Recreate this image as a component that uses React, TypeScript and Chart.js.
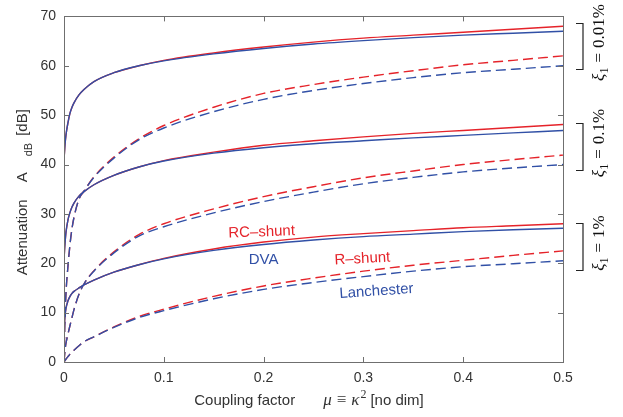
import { useEffect, useRef } from "react";
import { Chart, registerables } from "chart.js";

Chart.register(...registerables);

// ---- data ----
const mu = [0, 0.0005, 0.001, 0.002, 0.004, 0.006, 0.008, 0.01, 0.015, 0.02, 0.03, 0.05, 0.075, 0.1, 0.15, 0.2, 0.25, 0.3, 0.35, 0.4, 0.45, 0.5];

// xi = 0.01 %
const rcShunt001 = [41, 42.5, 44, 46, 48.5, 50.4, 51.6, 52.5, 54.1, 55.2, 56.8, 58.6, 60.0, 61.1, 62.6, 63.8, 64.8, 65.6, 66.2, 66.8, 67.4, 68.0];
const dva001 = [41, 42.5, 44, 46, 48.5, 50.4, 51.6, 52.5, 54.1, 55.2, 56.8, 58.6, 60.0, 61.0, 62.4, 63.5, 64.4, 65.1, 65.7, 66.2, 66.6, 67.0];
const rShunt001 = [0, 5, 9, 14, 19.5, 23.8, 27, 29.3, 33.0, 34.6, 37.5, 41.5, 45.2, 47.9, 51.6, 54.4, 56.2, 57.7, 59.0, 60.2, 61.1, 62.0];
const lanchester001 = [0, 5, 9, 14, 19.5, 23.8, 27, 29.3, 33.0, 34.6, 37.4, 41.3, 45.0, 47.4, 50.7, 53.2, 55.0, 56.4, 57.6, 58.6, 59.3, 60.0];

// xi = 0.1 %
const rcShunt01 = [20.5, 22.5, 24, 26.3, 28.8, 30.3, 31.4, 32.2, 33.6, 34.5, 35.9, 37.8, 39.5, 40.8, 42.5, 43.9, 44.8, 45.6, 46.3, 46.9, 47.5, 48.1];
const dva01 = [20.5, 22.5, 24, 26.3, 28.8, 30.3, 31.4, 32.2, 33.6, 34.5, 35.9, 37.8, 39.5, 40.7, 42.3, 43.4, 44.2, 44.8, 45.4, 45.9, 46.4, 46.9];
const rShunt01 = [0, 1.2, 2.3, 3.8, 5.7, 7.4, 9.0, 10.6, 13.7, 15.8, 18.5, 22.3, 25.8, 28.0, 31.0, 33.5, 35.5, 37.3, 38.7, 40.0, 41.0, 41.9];
const lanchester01 = [0, 1.2, 2.3, 3.8, 5.7, 7.4, 9.0, 10.6, 13.7, 15.8, 18.4, 22.1, 25.5, 27.4, 30.2, 32.5, 34.4, 36.1, 37.4, 38.5, 39.3, 40.0];

// xi = 1 %
const rcShunt1 = [6.5, 8, 9.3, 10.9, 12.4, 13.3, 13.9, 14.3, 15.0, 15.6, 16.6, 18.2, 19.7, 21.0, 22.9, 24.3, 25.3, 26.0, 26.6, 27.2, 27.6, 28.0];
const dva1 = [6.5, 8, 9.3, 10.9, 12.4, 13.3, 13.9, 14.3, 15.0, 15.6, 16.6, 18.2, 19.7, 20.9, 22.6, 23.8, 24.7, 25.4, 25.9, 26.4, 26.8, 27.1];
const rShunt1 = [0, 0.15, 0.3, 0.6, 1.1, 1.6, 2.0, 2.4, 3.3, 4.1, 5.1, 7.1, 9.2, 10.7, 13.3, 15.4, 17.0, 18.4, 19.6, 20.6, 21.6, 22.5];
const lanchester1 = [0, 0.15, 0.3, 0.6, 1.1, 1.6, 2.0, 2.4, 3.3, 4.1, 5.1, 7.0, 9.0, 10.4, 12.8, 14.7, 16.1, 17.3, 18.4, 19.3, 19.9, 20.5];

const xTicks = [0, 0.1, 0.2, 0.3, 0.4, 0.5];
const xTickLabels = ["0", "0.1", "0.2", "0.3", "0.4", "0.5"];
const yTicks = [0, 10, 20, 30, 40, 50, 60, 70];
const yTickLabels = ["0", "10", "20", "30", "40", "50", "60", "70"];

const xiLabels = ["0.01%", "0.1%", "1%"];
const bracketTops = [68.6, 48.4, 28.1];
const bracketBottoms = [59.3, 38.9, 18.7];

const curveLabels = [
  { text: "RC–shunt", x: 0.198, y: 26.3, color: "red", rot: -2 },
  { text: "DVA", x: 0.2, y: 20.6, color: "blue", rot: 0 },
  { text: "R–shunt", x: 0.299, y: 20.9, color: "red", rot: -3 },
  { text: "Lanchester", x: 0.313, y: 14.3, color: "blue", rot: -4 },
];

const RED = "#e5232a";
const BLUE = "#3150a6";
const AXIS = "#6f6f6f";
const TEXT = "#333333";
const SANS = "'Liberation Sans', Arial, Helvetica, sans-serif";
const SERIF = "'Liberation Serif', 'Times New Roman', serif";

function pts(ys: number[]) {
  return mu.map((x, i) => ({ x, y: ys[i] }));
}

function ds(label: string, ys: number[], color: string, dashed: boolean) {
  return {
    label,
    data: pts(ys),
    borderColor: color,
    backgroundColor: color,
    borderWidth: 1.4,
    borderDash: dashed ? [10, 5] : [],
    pointRadius: 0,
    fill: false,
    cubicInterpolationMode: "monotone" as const,
  };
}

const deco = {
  id: "deco",
  afterDraw(chart: any) {
    const { ctx, chartArea: a, scales } = chart;
    const xs = scales.x;
    const ys = scales.y;
    ctx.save();
    // box
    ctx.strokeStyle = AXIS;
    ctx.lineWidth = 1;
    ctx.setLineDash([]);
    ctx.strokeRect(Math.round(a.left) + 0.5, Math.round(a.top) + 0.5, Math.round(a.right - a.left), Math.round(a.bottom - a.top));
    const line = (x1: number, y1: number, x2: number, y2: number) => {
      ctx.beginPath();
      ctx.moveTo(x1, y1);
      ctx.lineTo(x2, y2);
      ctx.stroke();
    };
    const tl = 5;
    for (const v of xTicks) {
      const px = Math.round(xs.getPixelForValue(v)) + 0.5;
      line(px, a.bottom, px, a.bottom - tl);
      line(px, a.top, px, a.top + tl);
    }
    for (const v of yTicks) {
      const py = Math.round(ys.getPixelForValue(v)) + 0.5;
      line(a.left, py, a.left + tl, py);
      line(a.right, py, a.right - tl, py);
    }

    // curve labels
    for (const l of curveLabels) {
      ctx.save();
      ctx.translate(xs.getPixelForValue(l.x), ys.getPixelForValue(l.y));
      ctx.rotate((l.rot * Math.PI) / 180);
      ctx.font = `15px ${SANS}`;
      ctx.fillStyle = l.color === "red" ? RED : BLUE;
      ctx.textAlign = "center";
      ctx.textBaseline = "middle";
      ctx.fillText(l.text, 0, 0);
      ctx.restore();
    }

    // brackets + xi labels
    ctx.strokeStyle = "#222";
    ctx.lineWidth = 1.2;
    for (let i = 0; i < xiLabels.length; i++) {
      const t = Math.round(ys.getPixelForValue(bracketTops[i])) + 0.5;
      const b = Math.round(ys.getPixelForValue(bracketBottoms[i])) + 0.5;
      const bx = a.right + 20;
      ctx.beginPath();
      ctx.moveTo(bx - 7, t);
      ctx.lineTo(bx, t);
      ctx.lineTo(bx, b);
      ctx.lineTo(bx - 7, b);
      ctx.stroke();

      const cy = (t + b) / 2 - 4;
      ctx.save();
      ctx.translate(a.right + 41, cy);
      ctx.rotate(-Math.PI / 2);
      ctx.fillStyle = "#111";
      ctx.textBaseline = "alphabetic";
      ctx.textAlign = "left";
      const fXi = `italic 17px ${SERIF}`;
      const fSub = `12px ${SERIF}`;
      const fMain = `17px ${SERIF}`;
      ctx.font = fXi;
      const w1 = ctx.measureText("ξ").width;
      ctx.font = fSub;
      const w2 = ctx.measureText("1").width;
      ctx.font = fMain;
      const w3 = ctx.measureText("=").width;
      const w4 = ctx.measureText(xiLabels[i]).width;
      const g = 5;
      const total = w1 + w2 + g + w3 + g + w4;
      let x = -total / 2;
      ctx.font = fXi;
      ctx.fillText("ξ", x, 0);
      x += w1;
      ctx.font = fSub;
      ctx.fillText("1", x, 4);
      x += w2 + g;
      ctx.font = fMain;
      ctx.fillText("=", x, 0);
      x += w3 + g;
      ctx.fillText(xiLabels[i], x, 0);
      ctx.restore();
    }

    // y axis title
    {
      const cy = (a.top + a.bottom) / 2 + 3;
      ctx.save();
      ctx.translate(27, cy);
      ctx.rotate(-Math.PI / 2);
      ctx.fillStyle = TEXT;
      ctx.textAlign = "left";
      ctx.textBaseline = "alphabetic";
      const fM = `15px ${SANS}`;
      const fS = `11px ${SANS}`;
      ctx.font = fM;
      const wAtt = ctx.measureText("Attenuation").width;
      const wA = ctx.measureText("A").width;
      const wBr = ctx.measureText("[dB]").width;
      ctx.font = fS;
      const wdB = ctx.measureText("dB").width;
      const g1 = 17, g2 = 16, g3 = 7;
      const total = wAtt + g1 + wA + g2 + wdB + g3 + wBr;
      let x = -total / 2;
      ctx.font = fM;
      ctx.fillText("Attenuation", x, 0);
      x += wAtt + g1;
      ctx.fillText("A", x, 0);
      x += wA + g2;
      ctx.font = fS;
      ctx.fillText("dB", x, 5);
      x += wdB + g3;
      ctx.font = fM;
      ctx.fillText("[dB]", x, 0);
      ctx.restore();
    }

    // x axis title
    {
      const cx = (a.left + a.right) / 2 - 5;
      const by = 405;
      ctx.save();
      ctx.fillStyle = TEXT;
      ctx.textAlign = "left";
      ctx.textBaseline = "alphabetic";
      const fM = `15px ${SANS}`;
      const fI = `italic 17px ${SERIF}`;
      const fR = `17px ${SERIF}`;
      const fSup = `12px ${SERIF}`;
      ctx.font = fM;
      const wC = ctx.measureText("Coupling factor").width;
      const wN = ctx.measureText("[no dim]").width;
      ctx.font = fI;
      const wMu = ctx.measureText("μ").width;
      const wK = ctx.measureText("κ").width;
      ctx.font = fR;
      const wEq = ctx.measureText("≡").width;
      ctx.font = fSup;
      const w2 = ctx.measureText("2").width;
      const gap = 28, g = 5, g4 = 4;
      const total = wC + gap + wMu + g + wEq + g + wK + w2 + g4 + wN;
      let x = cx - total / 2;
      ctx.font = fM;
      ctx.fillText("Coupling factor", x, by);
      x += wC + gap;
      ctx.font = fI;
      ctx.fillText("μ", x, by);
      x += wMu + g;
      ctx.font = fR;
      ctx.fillText("≡", x, by);
      x += wEq + g;
      ctx.font = fI;
      ctx.fillText("κ", x, by);
      x += wK + 1;
      ctx.font = fSup;
      ctx.fillText("2", x, by - 7);
      x += w2 + g4;
      ctx.font = fM;
      ctx.fillText("[no dim]", x, by);
      ctx.restore();
    }
    ctx.restore();
  },
};

export default function App() {
  const ref = useRef<HTMLCanvasElement | null>(null);
  useEffect(() => {
    if (!ref.current) return;
    const chart = new Chart(ref.current, {
      type: "line",
      data: {
        datasets: [
          ds("DVA 0.01%", dva001, BLUE, false),
          ds("Lanchester 0.01%", lanchester001, BLUE, true),
          ds("DVA 0.1%", dva01, BLUE, false),
          ds("Lanchester 0.1%", lanchester01, BLUE, true),
          ds("DVA 1%", dva1, BLUE, false),
          ds("Lanchester 1%", lanchester1, BLUE, true),
          ds("RC-shunt 0.01%", rcShunt001, RED, false),
          ds("R-shunt 0.01%", rShunt001, RED, true),
          ds("RC-shunt 0.1%", rcShunt01, RED, false),
          ds("R-shunt 0.1%", rShunt01, RED, true),
          ds("RC-shunt 1%", rcShunt1, RED, false),
          ds("R-shunt 1%", rShunt1, RED, true),
        ],
      },
      options: {
        animation: false,
        responsive: true,
        maintainAspectRatio: false,
        layout: { padding: { left: 0, right: 60, top: 16, bottom: 0 } },
        plugins: { legend: { display: false }, tooltip: { enabled: false }, title: { display: false } },
        elements: { line: { tension: 0 } },
        scales: {
          x: {
            type: "linear",
            min: 0,
            max: 0.5,
            grid: { display: false, drawTicks: false },
            border: { display: false },
            afterFit: (s: any) => {
              s.height = 55;
            },
            afterBuildTicks: (s: any) => {
              s.ticks = xTicks.map((v) => ({ value: v }));
            },
            ticks: {
              padding: 8,
              color: TEXT,
              font: { family: SANS, size: 14 },
              maxRotation: 0,
              callback: (v: any) => {
                const i = xTicks.findIndex((t) => Math.abs(t - Number(v)) < 1e-9);
                return i >= 0 ? xTickLabels[i] : "";
              },
            },
          },
          y: {
            type: "linear",
            min: 0,
            max: 70,
            grid: { display: false, drawTicks: false },
            border: { display: false },
            afterFit: (s: any) => {
              s.width = 64;
            },
            afterBuildTicks: (s: any) => {
              s.ticks = yTicks.map((v) => ({ value: v }));
            },
            ticks: {
              padding: 8,
              color: TEXT,
              font: { family: SANS, size: 14 },
              callback: (v: any) => {
                const i = yTicks.indexOf(Number(v));
                return i >= 0 ? yTickLabels[i] : "";
              },
            },
          },
        },
      },
      plugins: [deco],
    });
    return () => chart.destroy();
  }, []);
  return (
    <div style={{ position: "absolute", left: 0, top: 0, width: 623, height: 417, background: "#fff" }}>
      <canvas ref={ref} />
    </div>
  );
}
